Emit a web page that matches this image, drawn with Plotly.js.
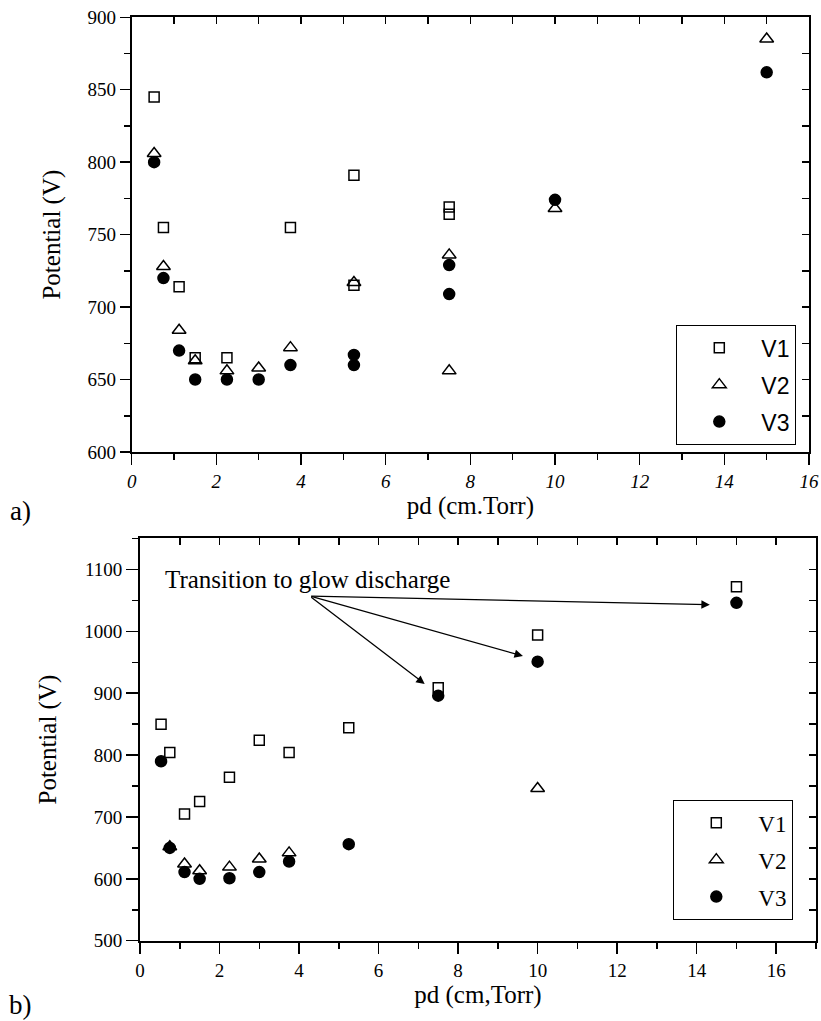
<!DOCTYPE html>
<html>
<head>
<meta charset="utf-8">
<script src="https://cdn.plot.ly/plotly-3.0.1.min.js"></script>
<style>html,body{margin:0;padding:0;background:#fff}#chart{width:821px;height:1021px}</style>
</head>
<body>
<div id="chart"></div>
<script>
// ---- Panel a) data ----
const pdA_V1 = [0.53, 0.75, 1.12, 1.5, 2.25, 3.75, 5.25, 5.25, 7.5, 7.5];
const vA_V1  = [845, 755, 714, 665, 665, 755, 791, 715, 769, 764];
const pdA_V2 = [0.53, 0.75, 1.12, 1.5, 2.25, 3.0, 3.75, 5.25, 7.5, 7.5, 10, 15];
const vA_V2  = [806, 728, 684, 663, 656, 658, 672, 717, 736, 656, 768, 885];
const pdA_V3 = [0.53, 0.75, 1.12, 1.5, 2.25, 3.0, 3.75, 5.25, 5.25, 7.5, 7.5, 10, 15];
const vA_V3  = [800, 720, 670, 650, 650, 650, 660, 667, 660, 729, 709, 774, 862];

// ---- Panel b) data ----
const pdB_V1 = [0.53, 0.75, 1.12, 1.5, 2.25, 3.0, 3.75, 5.25, 7.5, 10, 15];
const vB_V1  = [850, 804, 705, 725, 764, 824, 804, 844, 909, 994, 1072];
const pdB_V2 = [0.75, 1.12, 1.5, 2.25, 3.0, 3.75, 10];
const vB_V2  = [652, 624, 613, 619, 632, 642, 746];
const pdB_V3 = [0.53, 0.75, 1.12, 1.5, 2.25, 3.0, 3.75, 5.25, 7.5, 10, 15];
const vB_V3  = [790, 650, 611, 600, 601, 611, 628, 656, 896, 951, 1046];

const seriesNames = ['V1', 'V2', 'V3'];
const annotationText = 'Transition to glow discharge';
// arrows: tail point and head points (pd, V)
const arrowTail = [4.27, 1057];
const arrowHeads = [[7.16, 915], [9.63, 960], [14.33, 1043]];

const serif = 'Liberation Serif';
const sans = 'Liberation Sans';

const symbols = ['square-open', 'triangle-up-open', 'circle'];
const sizes = [10, 12, 11];
function mk(i) {
  return {symbol: symbols[i], size: sizes[i], color: '#000', line: {width: 1.5, color: '#000'}};
}

const traces = [];
[[pdA_V1, vA_V1], [pdA_V2, vA_V2], [pdA_V3, vA_V3]].forEach((d, i) => {
  traces.push({type: 'scatter', mode: 'markers', x: d[0], y: d[1], name: seriesNames[i],
    marker: mk(i), xaxis: 'x', yaxis: 'y', legend: 'legend', legendgroup: 'a' + i, hoverinfo: 'x+y'});
});
[[pdB_V1, vB_V1], [pdB_V2, vB_V2], [pdB_V3, vB_V3]].forEach((d, i) => {
  traces.push({type: 'scatter', mode: 'markers', x: d[0], y: d[1], name: seriesNames[i],
    marker: mk(i), xaxis: 'x2', yaxis: 'y2', legend: 'legend2', legendgroup: 'b' + i, hoverinfo: 'x+y'});
});
// empty traces to register mirror axes
traces.push({type: 'scatter', mode: 'markers', x: [], y: [], xaxis: 'x3', yaxis: 'y3', showlegend: false, hoverinfo: 'skip'});
traces.push({type: 'scatter', mode: 'markers', x: [], y: [], xaxis: 'x4', yaxis: 'y4', showlegend: false, hoverinfo: 'skip'});

const tickFont = {family: serif, size: 19, color: '#000'};
const titleFont = {family: serif, size: 25, color: '#000'};
const base = {showline: true, linecolor: '#000', linewidth: 2, showgrid: false, zeroline: false,
  tickcolor: '#000', tickwidth: 1.5, fixedrange: true};
function mirror(over, anchor, side, range, dtick, mdtick) {
  return Object.assign({}, base, {overlaying: over, anchor: anchor, side: side, range: range,
    tick0: 0, dtick: dtick, ticks: 'inside', ticklen: 7, showticklabels: false,
    minor: {dtick: mdtick, ticks: 'inside', ticklen: 7, tickcolor: '#000', tickwidth: 1.5}});
}

const domA_x = [0.1604, 0.9854], domA_y = [0.5573, 0.9831];
const domB_x = [0.1705, 0.9939], domB_y = [0.0786, 0.4726];

const layout = {
  width: 821, height: 1021,
  margin: {l: 0, r: 0, t: 0, b: 0},
  font: {family: serif, size: 19, color: '#000'},
  paper_bgcolor: '#fff', plot_bgcolor: '#fff',
  showlegend: true,
  xaxis: Object.assign({}, base, {domain: domA_x, anchor: 'y', range: [0, 16], tick0: 0, dtick: 2,
    ticks: 'outside', ticklen: 11,
    minor: {dtick: 1, ticks: 'outside', ticklen: 6, tickcolor: '#000', tickwidth: 1.5},
    tickfont: {family: serif, size: 19, color: '#000', style: 'italic'},
    title: {text: 'pd (cm.Torr)', font: titleFont, standoff: 4}}),
  yaxis: Object.assign({}, base, {domain: domA_y, anchor: 'x', range: [600, 900], tick0: 0, dtick: 50,
    ticks: 'outside', ticklen: 10,
    minor: {dtick: 25, ticks: 'outside', ticklen: 6, tickcolor: '#000', tickwidth: 1.5},
    tickfont: tickFont,
    title: {text: 'Potential (V)', font: titleFont, standoff: 20}}),
  xaxis3: mirror('x', 'y', 'top', [0, 16], 2, 1),
  yaxis3: mirror('y', 'x', 'right', [600, 900], 50, 25),
  xaxis2: Object.assign({}, base, {domain: domB_x, anchor: 'y2', range: [0, 17], tick0: 0, dtick: 2,
    ticks: 'outside', ticklen: 11,
    minor: {dtick: 1, ticks: 'outside', ticklen: 6, tickcolor: '#000', tickwidth: 1.5},
    tickfont: tickFont,
    title: {text: 'pd (cm,Torr)', font: titleFont, standoff: 4}}),
  yaxis2: Object.assign({}, base, {domain: domB_y, anchor: 'x2', range: [500, 1150], tick0: 0, dtick: 100,
    ticks: 'outside', ticklen: 12,
    minor: {dtick: 50, ticks: 'outside', ticklen: 6, tickcolor: '#000', tickwidth: 1.5},
    tickfont: tickFont,
    title: {text: 'Potential (V)', font: titleFont, standoff: 20}}),
  xaxis4: mirror('x2', 'y2', 'top', [0, 17], 2, 1),
  yaxis4: mirror('y2', 'x2', 'right', [500, 1150], 100, 50),
  legend: {x: 676 / 821, y: 1 - 325 / 1021, xanchor: 'left', yanchor: 'top',
    bordercolor: '#000', borderwidth: 1.3, bgcolor: '#fff',
    font: {family: sans, size: 23, color: '#000'}, itemwidth: 74, entrywidth: 68,
    traceorder: 'grouped', tracegroupgap: 4},
  legend2: {x: 673 / 821, y: 1 - 800 / 1021, xanchor: 'left', yanchor: 'top',
    bordercolor: '#000', borderwidth: 1.3, bgcolor: '#fff',
    font: {family: serif, size: 23, color: '#000'}, itemwidth: 74, entrywidth: 66,
    traceorder: 'grouped', tracegroupgap: 4},
  annotations: [
    {xref: 'paper', yref: 'paper', x: 20 / 821, y: 1 - 511 / 1021, text: 'a)', showarrow: false,
      xanchor: 'center', yanchor: 'middle', font: {family: serif, size: 27, color: '#000'}},
    {xref: 'paper', yref: 'paper', x: 20 / 821, y: 1 - 1005 / 1021, text: 'b)', showarrow: false,
      xanchor: 'center', yanchor: 'middle', font: {family: serif, size: 27, color: '#000'}},
    {xref: 'x2', yref: 'y2', x: 0.58, y: 1083, text: annotationText, showarrow: false,
      xanchor: 'left', yanchor: 'middle', font: {family: serif, size: 25, color: '#000'}}
  ].concat(arrowHeads.map(h => ({
    xref: 'x2', yref: 'y2', axref: 'x2', ayref: 'y2', x: h[0], y: h[1], ax: arrowTail[0], ay: arrowTail[1],
    text: '', showarrow: true, arrowhead: 2, arrowsize: 1.3, arrowwidth: 1.3, arrowcolor: '#000', standoff: 0
  })))
};

Plotly.newPlot('chart', traces, layout, {displayModeBar: false, staticPlot: true});
</script>
</body>
</html>
